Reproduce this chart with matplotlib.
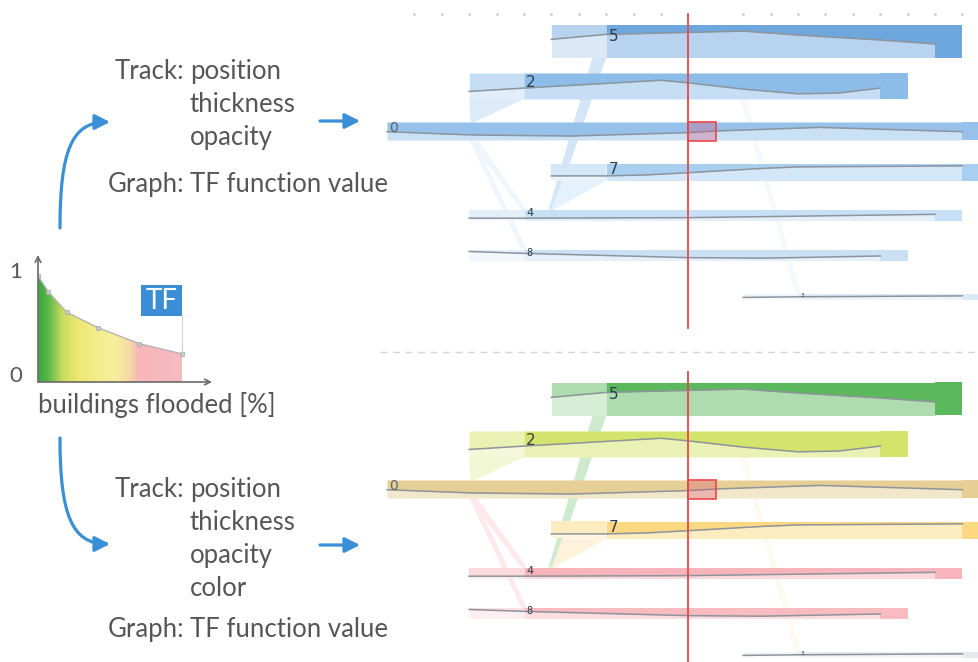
import numpy as np
import matplotlib.pyplot as plt
from matplotlib.patches import Rectangle, Polygon, FancyArrowPatch
from matplotlib.path import Path
from matplotlib.colors import to_rgb, LinearSegmentedColormap

plt.rcParams['font.family'] = ['Lato', 'DejaVu Sans']

W, H = 979, 662

# transfer function: buildings flooded -> TF value
tf_x = [0.0, 0.07, 0.2, 0.42, 0.7, 1.0]
tf_y = [1.02, 0.87, 0.67, 0.52, 0.37, 0.27]
grad_pos = [0.0, 0.07, 0.17, 0.28, 0.52, 0.63, 0.70, 1.0]
grad_col = ["#3aa83e", "#5db84a", "#c9dd5e", "#efe874", "#f6f09c",
            "#f8dca4", "#f6b6ba", "#f7bcc0"]

# tracks, listed top to bottom
track_ids = ["5", "2", "0", "7", "4", "8", "3"]
track_pos = [41, 86, 131, 172, 215, 255, 296.5]
track_thick = [33, 26, 18, 17, 11, 11, 6]
track_start = [6, 3, 0, 6, 3, 3, 13]
track_label = [8, 5, 0, 8, 5, 5, 15]
track_stop = [20, 18, 21, 21, 20, 18, 21]
track_end = [21, 19, 22.5, 22.5, 21, 19, 22.5]
label_size = [11, 11, 10, 11, 8, 7, 4]

# TF value graph drawn inside each track
curve_t = [
    [6, 8, 11, 13, 15, 18, 20],
    [3, 5, 10, 11, 13, 15, 16.5, 18],
    [0, 3.1, 6.7, 11, 12, 15.8, 21],
    [6, 8, 9.5, 11, 13.7, 15, 21],
    [3, 5, 11, 20],
    [3, 5, 11, 13.7, 18],
    [13, 15, 21],
]
curve_v = [
    [0.55, 0.70, 0.76, 0.80, 0.68, 0.53, 0.41],
    [0.29, 0.42, 0.72, 0.62, 0.38, 0.20, 0.23, 0.42],
    [0.46, 0.28, 0.22, 0.41, 0.50, 0.70, 0.46],
    [0.27, 0.27, 0.33, 0.46, 0.71, 0.80, 0.86],
    [0.21, 0.21, 0.26, 0.56],
    [0.82, 0.65, 0.26, 0.21, 0.41],
    [0.35, 0.45, 0.60],
]

top_colors = ["#6ea7de", "#8cbde9", "#95c1ea", "#a9cff0", "#c8e0f5", "#cae1f5", "#dbeaf8"]
bottom_colors = ["#5cb85c", "#d4e36b", "#e5cf95", "#fdd882", "#f7b5bb", "#f8bbc0", "#e6e9ee"]

# split / merge links between tracks
link_from = ["0", "0", "0", "5", "7", "2"]
link_to = ["2", "4", "8", "4", "4", "3"]
link_from_t = [(3.05, 3.2), (3.0, 3.3), (3.0, 3.2), (7.5, 8.0), (6.4, 8.0), (12.9, 13.1)]
link_to_t = [(3.0, 5.0), (4.9, 5.1), (4.9, 5.1), (5.9, 6.1), (6.0, 6.1), (14.9, 15.1)]
link_col = ["2", "4", "4", "5", "7", "7"]
link_strength = [0.3, 0.3, 0.3, 0.3, 0.3, 0.12]

time_dots = [1, 2, 3, 4, 5, 6, 7, 8, 9, 10, 13, 14, 15, 16, 17, 18, 19, 20, 21]
t_now = 11


def tint(c, f):
    c = np.array(to_rgb(c))
    return tuple(1 - f * (1 - c))


def draw_panel(ax, colors, dots):
    ax.set_xlim((380 - 387) / 27.4, (979 - 387) / 27.4)
    ax.set_ylim(355, 0)
    ax.axis('off')

    # links
    for k in range(len(link_from)):
        a = track_ids.index(link_from[k])
        b = track_ids.index(link_to[k])
        if track_pos[a] < track_pos[b]:
            ya = track_pos[a] + track_thick[a] / 2
            yb = track_pos[b] - track_thick[b] / 2
        else:
            ya = track_pos[a] - track_thick[a] / 2
            yb = track_pos[b] + track_thick[b] / 2
        fa, fb = link_from_t[k]
        ta, tb = link_to_t[k]
        col = tint(colors[track_ids.index(link_col[k])], link_strength[k])
        ax.add_patch(Polygon([(fa, ya), (fb, ya), (tb, yb), (ta, yb)],
                             closed=True, facecolor=col, edgecolor='none', zorder=1))

    # tracks
    for i in range(len(track_ids)):
        dark = colors[i]
        light = tint(dark, 0.5)
        pale = tint(dark, 0.25)
        top = track_pos[i] - track_thick[i] / 2
        bot = track_pos[i] + track_thick[i] / 2
        ct = np.array(curve_t[i], dtype=float)
        cy = bot - np.array(curve_v[i]) * track_thick[i]
        left = ct <= track_label[i]
        right = ct >= track_label[i]
        if left.sum() > 1:
            ax.fill_between(ct, cy, bot, where=left, color=pale, lw=0, zorder=2)
            ax.fill_between(ct, top, cy, where=left, color=light, lw=0, zorder=2)
        ax.fill_between(ct, cy, bot, where=right, color=light, lw=0, zorder=2)
        ax.fill_between(ct, top, cy, where=right, color=dark, lw=0, zorder=2)
        ax.add_patch(Rectangle((track_stop[i], top), track_end[i] - track_stop[i],
                               track_thick[i], facecolor=dark, edgecolor='none', zorder=2))
        ax.plot(ct, cy, color='#8d949c', lw=1.1, zorder=3)
        ax.text(track_label[i] + 0.08, track_pos[i] - 0.15 * track_thick[i], track_ids[i],
                fontsize=label_size[i], color='#2e3b48' if i != 2 else '#5a6470',
                ha='left', va='center', zorder=4, family='DejaVu Sans')

    # current time marker
    ax.plot([t_now, t_now], [14, 328], color='#e8474a', lw=1.3, zorder=5)
    i0 = track_ids.index("0")
    ax.add_patch(Rectangle((t_now, track_pos[i0] - track_thick[i0] / 2 - 0.5), 1,
                           track_thick[i0] + 1, facecolor=(0.85, 0.3, 0.45, 0.3),
                           edgecolor='#e8474a', lw=1.2, zorder=6))
    if dots:
        ax.scatter(time_dots, [14] * len(time_dots), s=1.0, color='#cccccc', zorder=1)
        ax.plot([-0.26, 21.6], [352, 352], ls=(0, (5, 4)), color='#d6d6d6', lw=1)


fig = plt.figure(figsize=(W / 100, H / 100), dpi=100)

ax_top = fig.add_axes([380 / W, 1 - 355 / H, 599 / W, 355 / H])
draw_panel(ax_top, top_colors, True)
ax_bot = fig.add_axes([380 / W, 1 - 713 / H, 599 / W, 355 / H])
draw_panel(ax_bot, bottom_colors, False)

# TF chart
tax = fig.add_axes([38 / W, 1 - 382 / H, 174 / W, 127 / H])
cmap = LinearSegmentedColormap.from_list('tf', list(zip(grad_pos, grad_col)))
im = tax.imshow(np.linspace(0, 1, 400)[None, :], extent=[0, 1, 0, 1.1],
                aspect='auto', cmap=cmap, origin='lower')
clip = Polygon(list(zip(tf_x, tf_y)) + [(1, 0), (0, 0)], closed=True,
               transform=tax.transData, facecolor='none', edgecolor='none')
tax.add_patch(clip)
im.set_clip_path(clip)
tax.plot(tf_x, tf_y, color='#b4b4b4', lw=1.0, marker='s', ms=2.5,
         mfc='#c8c8c8', mec='#a8a8a8', mew=0.5)
tax.set_xlim(0, 174 / 144)
tax.set_ylim(0, 127 / 104)
tax.axis('off')
tax.annotate('', xy=(0, 127 / 104), xytext=(0, 0), annotation_clip=False,
             arrowprops=dict(arrowstyle='->', color='#6a6a6a', lw=1.2, shrinkA=0, shrinkB=0))
tax.annotate('', xy=(174 / 144, 0), xytext=(0, 0), annotation_clip=False,
             arrowprops=dict(arrowstyle='->', color='#6a6a6a', lw=1.2, shrinkA=0, shrinkB=0))
tax.plot([1, 1], [0.27, 0.635], color='#d0d0d0', lw=0.8)
tax.add_patch(Rectangle((0.715, 0.635), 0.285, 0.30, facecolor='#3b8ed6', edgecolor='none'))
tax.text(0.857, 0.78, 'TF', color='white', fontsize=20, ha='center', va='center')

# overlay for text and arrows
ov = fig.add_axes([0, 0, 1, 1], zorder=10)
ov.set_xlim(0, W)
ov.set_ylim(H, 0)
ov.axis('off')

txt = dict(color='#565656', fontsize=18.5, va='baseline')
ov.text(22, 272, '1', color='#565656', fontsize=16, ha='right', va='center')
ov.text(22, 376, '0', color='#565656', fontsize=16, ha='right', va='center')
ov.text(38, 413, 'buildings flooded [%]', ha='left', **txt)

for y0, items in [(79, ['position', 'thickness', 'opacity']),
                  (497, ['position', 'thickness', 'opacity', 'color'])]:
    ov.text(184, y0, 'Track:', ha='right', **txt)
    for j, s in enumerate(items):
        ov.text(190, y0 + 33 * j, s, ha='left', **txt)
    gy = 192 if len(items) == 3 else 637
    ov.text(184, gy, 'Graph:', ha='right', **txt)
    ov.text(190, gy, 'TF function value', ha='left', **txt)

blue = '#3a8fd6'
astyle = '-|>,head_length=0.75,head_width=0.38'
up = Path([(60, 228), (60, 150), (72, 122), (110, 122)],
          [Path.MOVETO, Path.CURVE4, Path.CURVE4, Path.CURVE4])
down = Path([(60, 438), (60, 515), (72, 544), (110, 544)],
            [Path.MOVETO, Path.CURVE4, Path.CURVE4, Path.CURVE4])
for p in (up, down):
    ov.add_patch(FancyArrowPatch(path=p, arrowstyle=astyle, mutation_scale=12,
                                 color=blue, lw=2.3))
for y in (121, 545):
    ov.add_patch(FancyArrowPatch((320, y), (360, y), arrowstyle=astyle,
                                 mutation_scale=12, color=blue, lw=2.3,
                                 shrinkA=0, shrinkB=0))

fig.savefig('out.png', dpi=100)
